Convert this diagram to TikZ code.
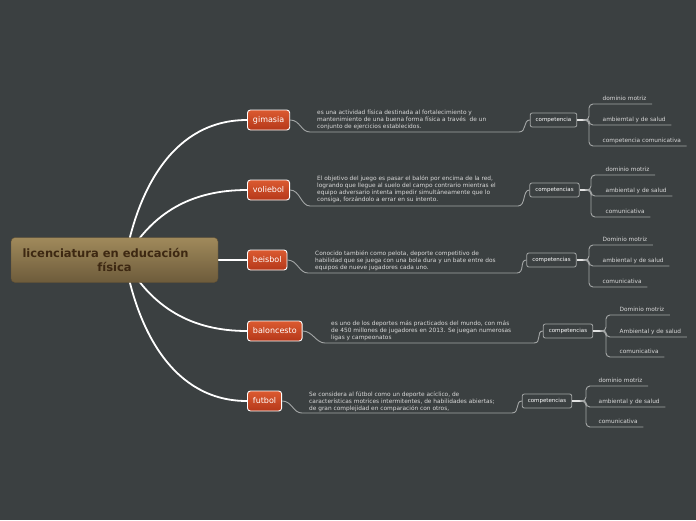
\documentclass[tikz,border=0pt]{standalone}
\usepackage{fontspec}
\setmainfont{DejaVu Sans}
\usetikzlibrary{positioning}
\pgfdeclarelayer{background}
\pgfsetlayers{background,main}
\definecolor{slate}{HTML}{3B4041}
\definecolor{linkgray}{HTML}{A3A6A6}
\definecolor{textgray}{HTML}{D8D8D8}
\definecolor{rootbrown}{HTML}{3D2812}
\definecolor{roottop}{HTML}{A08A5B}
\definecolor{rootbottom}{HTML}{6D5B3B}
\definecolor{sporttop}{HTML}{DB5A30}
\definecolor{sportbottom}{HTML}{B5381A}
\tikzset{
  rootbox/.style={rounded corners=4pt, top color=roottop, bottom color=rootbottom, draw=rootbottom!85!black,
    text=rootbrown, font=\fontsize{11.5}{14.5}\selectfont\bfseries, align=center},
  sportbox/.style={rounded corners=3pt, top color=sporttop, bottom color=sportbottom, draw=white, line width=0.9pt,
    text=white, font=\fontsize{8}{10}\selectfont, minimum height=20pt, inner xsep=5.5pt, anchor=west},
  compbox/.style={rounded corners=2pt, draw=linkgray, fill=slate, line width=0.8pt, text=white,
    font=\fontsize{5.5}{7}\selectfont, minimum height=14pt, inner xsep=5.5pt},
  desctext/.style={text=textgray, font=\fontsize{5.85}{7}\selectfont, align=left, anchor=north west, inner sep=0pt},
  leafbox/.style={text=textgray, font=\fontsize{5.8}{7}\selectfont, anchor=south west, inner xsep=5.5pt,
    inner ysep=2.5pt, text height=4pt, text depth=1pt},
  stem/.style={white, line width=1.8pt},
  link/.style={linkgray, line width=0.9pt},
  trunk/.style={white!85!slate, line width=1.6pt},
  branch/.style={linkgray, line width=0.9pt, rounded corners=4pt},
}
\begin{document}
\begin{tikzpicture}[x=1pt, y=-1pt]
\useasboundingbox (0,0) rectangle (696,520);

% centre et sports
\node[rootbox, minimum width=207pt, minimum height=45pt] (root) at (114.5,260) {licenciatura en educación\hspace*{18pt}\\física};
\coordinate (hub) at (125,260);
\node[sportbox] (gimasia) at (247,120) {gimasia};
\node[sportbox] (voliebol) at (247,190) {voliebol};
\node[sportbox] (beisbol) at (247,260) {beisbol};
\node[sportbox] (baloncesto) at (247,331) {baloncesto};
\node[sportbox] (futbol) at (247,401) {futbol};

\begin{pgfonlayer}{background}
  \fill[slate] (0,0) rectangle (696,520);
  \draw[stem] (hub) .. controls (138,188) and (174,120) .. (gimasia.west);
  \draw[stem] (hub) .. controls (152,212) and (192,190) .. (voliebol.west);
  \draw[stem] (hub) -- (beisbol.west);
  \draw[stem] (hub) .. controls (152,308) and (192,331) .. (baloncesto.west);
  \draw[stem] (hub) .. controls (138,332) and (174,401) .. (futbol.west);
\end{pgfonlayer}

% gimasia
\node[desctext] (gimasia-txt) at (317,110) {es una actividad física destinada al fortalecimiento y\\mantenimiento de una buena forma física a través\ \ de un\\conjunto de ejercicios establecidos.};
\node[compbox] (gimasia-comp) at (553.5,120) {competencia};
\coordinate (gimasia-u1) at (310,132);
\coordinate (gimasia-u2) at (519,132);
\coordinate (gimasia-fork) at (588,120);
\draw[link] (gimasia.east) .. controls +(10,0) and +(-9,0) .. (gimasia-u1) -- (gimasia-u2) .. controls +(8,0) and +(-7,0) .. (gimasia-comp.west);
\draw[trunk] (gimasia-comp.east) -- (gimasia-fork);
\node[leafbox] (gimasia-l1) at (597,104) {dominio motriz};
\node[leafbox] (gimasia-l2) at (597,125) {ambiemtal y de salud};
\node[leafbox] (gimasia-l3) at (597,146) {competencia comunicativa};
\draw[branch] (gimasia-fork) -- ++(1,0) |- (gimasia-l1.south west) -- (gimasia-l1.south east);
\draw[branch] (gimasia-fork) -- ++(1,0) |- (gimasia-l2.south west) -- (gimasia-l2.south east);
\draw[branch] (gimasia-fork) -- ++(1,0) |- (gimasia-l3.south west) -- (gimasia-l3.south east);

% voliebol
\node[desctext] (voliebol-txt) at (317,176) {El objetivo del juego es pasar el balón por encima de la red,\\logrando que llegue al suelo del campo contrario mientras el\\equipo adversario intenta impedir simultáneamente que lo\\consiga, forzándolo a errar en su intento.};
\node[compbox] (voliebol-comp) at (554.5,190) {competencias};
\coordinate (voliebol-u1) at (310,206);
\coordinate (voliebol-u2) at (518,206);
\coordinate (voliebol-fork) at (590,190);
\draw[link] (voliebol.east) .. controls +(10,0) and +(-9,0) .. (voliebol-u1) -- (voliebol-u2) .. controls +(8,0) and +(-7,0) .. (voliebol-comp.west);
\draw[trunk] (voliebol-comp.east) -- (voliebol-fork);
\node[leafbox] (voliebol-l1) at (600,175) {dominio motriz};
\node[leafbox] (voliebol-l2) at (600,196) {ambiental y de salud};
\node[leafbox] (voliebol-l3) at (600,217) {comunicativa};
\draw[branch] (voliebol-fork) -- ++(1,0) |- (voliebol-l1.south west) -- (voliebol-l1.south east);
\draw[branch] (voliebol-fork) -- ++(1,0) |- (voliebol-l2.south west) -- (voliebol-l2.south east);
\draw[branch] (voliebol-fork) -- ++(1,0) |- (voliebol-l3.south west) -- (voliebol-l3.south east);

% beisbol
\node[desctext] (beisbol-txt) at (315,251) {Conocido también como pelota, deporte competitivo de\\habilidad que se juega con una bola dura y un bate entre dos\\equipos de nueve jugadores cada uno.};
\node[compbox] (beisbol-comp) at (551.5,260) {competencias};
\coordinate (beisbol-u1) at (308,273);
\coordinate (beisbol-u2) at (517,273);
\coordinate (beisbol-fork) at (588,260);
\draw[link] (beisbol.east) .. controls +(10,0) and +(-9,0) .. (beisbol-u1) -- (beisbol-u2) .. controls +(8,0) and +(-7,0) .. (beisbol-comp.west);
\draw[trunk] (beisbol-comp.east) -- (beisbol-fork);
\node[leafbox] (beisbol-l1) at (597,245) {Dominio motriz};
\node[leafbox] (beisbol-l2) at (597,266) {ambiental y de salud};
\node[leafbox] (beisbol-l3) at (597,287) {comunicativa};
\draw[branch] (beisbol-fork) -- ++(1,0) |- (beisbol-l1.south west) -- (beisbol-l1.south east);
\draw[branch] (beisbol-fork) -- ++(1,0) |- (beisbol-l2.south west) -- (beisbol-l2.south east);
\draw[branch] (beisbol-fork) -- ++(1,0) |- (beisbol-l3.south west) -- (beisbol-l3.south east);

% baloncesto
\node[desctext] (baloncesto-txt) at (331,321) {es uno de los deportes más practicados del mundo, con más\\de 450 millones de jugadores en 2013. Se juegan numerosas\\ligas y campeonatos};
\node[compbox] (baloncesto-comp) at (568,331) {competencias};
\coordinate (baloncesto-u1) at (325,343);
\coordinate (baloncesto-u2) at (534,343);
\coordinate (baloncesto-fork) at (605,331);
\draw[link] (baloncesto.east) .. controls +(10,0) and +(-9,0) .. (baloncesto-u1) -- (baloncesto-u2) .. controls +(8,0) and +(-7,0) .. (baloncesto-comp.west);
\draw[trunk] (baloncesto-comp.east) -- (baloncesto-fork);
\node[leafbox] (baloncesto-l1) at (614,315) {Dominio motriz};
\node[leafbox] (baloncesto-l2) at (614,337) {Ambiental y de salud};
\node[leafbox] (baloncesto-l3) at (614,357) {comunicativa};
\draw[branch] (baloncesto-fork) -- ++(1,0) |- (baloncesto-l1.south west) -- (baloncesto-l1.south east);
\draw[branch] (baloncesto-fork) -- ++(1,0) |- (baloncesto-l2.south west) -- (baloncesto-l2.south east);
\draw[branch] (baloncesto-fork) -- ++(1,0) |- (baloncesto-l3.south west) -- (baloncesto-l3.south east);

% futbol
\node[desctext] (futbol-txt) at (309,392) {Se considera al fútbol como un deporte acíclico, de\\características motrices intermitentes, de habilidades abiertas;\\de gran complejidad en comparación con otros,};
\node[compbox] (futbol-comp) at (547,401) {competencias};
\coordinate (futbol-u1) at (302,413);
\coordinate (futbol-u2) at (512,413);
\coordinate (futbol-fork) at (585,401);
\draw[link] (futbol.east) .. controls +(10,0) and +(-9,0) .. (futbol-u1) -- (futbol-u2) .. controls +(8,0) and +(-7,0) .. (futbol-comp.west);
\draw[trunk] (futbol-comp.east) -- (futbol-fork);
\node[leafbox] (futbol-l1) at (593,386) {dominio motriz};
\node[leafbox] (futbol-l2) at (593,407) {ambiental y de salud};
\node[leafbox] (futbol-l3) at (593,427) {comunicativa};
\draw[branch] (futbol-fork) -- ++(1,0) |- (futbol-l1.south west) -- (futbol-l1.south east);
\draw[branch] (futbol-fork) -- ++(1,0) |- (futbol-l2.south west) -- (futbol-l2.south east);
\draw[branch] (futbol-fork) -- ++(1,0) |- (futbol-l3.south west) -- (futbol-l3.south east);
\end{tikzpicture}
\end{document}
